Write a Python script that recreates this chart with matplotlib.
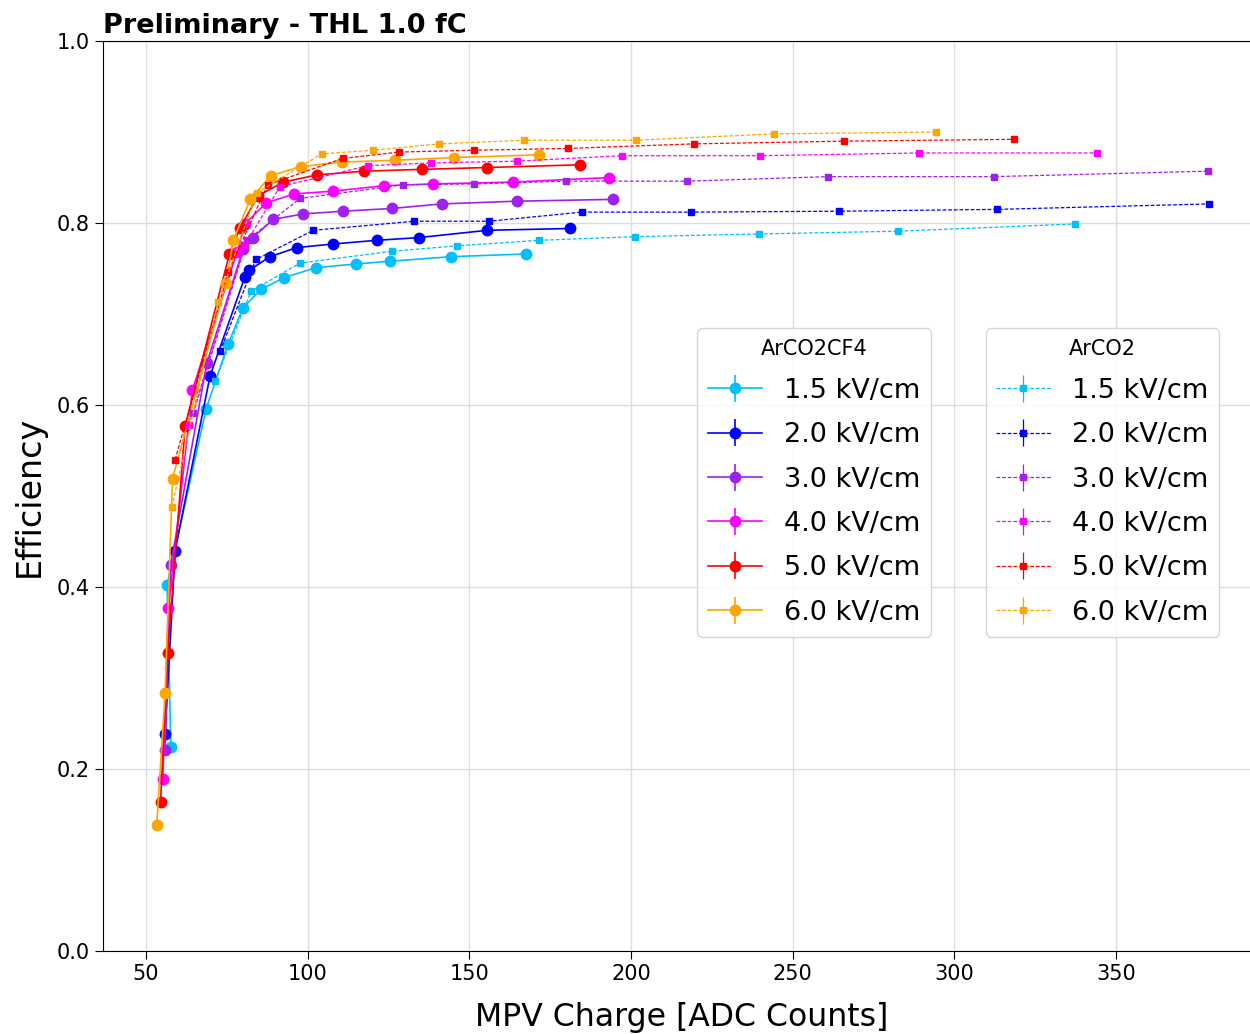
import matplotlib
matplotlib.use("Agg")
import matplotlib.pyplot as plt
import numpy as np

fields = ["1.5 kV/cm", "2.0 kV/cm", "3.0 kV/cm", "4.0 kV/cm", "5.0 kV/cm", "6.0 kV/cm"]
colors = ["#00BFFF", "#0000FF", "#A020F0", "#FF00FF", "#FF0000", "#FFA500"]

# ArCO2CF4 (solid, circles)
cf4_x = [
    [57.7, 56.5, 68.6, 75.4, 80.0, 85.6, 92.7, 102.6, 114.9, 125.4, 144.3, 167.5],
    [55.9, 59.0, 69.8, 80.6, 81.9, 88.3, 96.6, 107.9, 121.3, 134.4, 155.5, 181.1],
    [55.9, 57.6, 68.8, 80.1, 83.0, 89.4, 98.5, 110.8, 126.0, 141.4, 164.6, 194.5],
    [55.2, 56.9, 64.3, 78.1, 80.6, 87.1, 95.8, 107.7, 123.6, 138.8, 163.4, 193.3],
    [54.5, 56.7, 62.1, 75.8, 79.1, 84.7, 92.5, 103.0, 117.5, 135.5, 155.3, 184.2],
    [53.3, 55.9, 58.2, 74.7, 77.0, 82.2, 88.6, 97.8, 110.5, 127.0, 145.2, 171.6],
]
cf4_y = [
    [0.224, 0.402, 0.596, 0.667, 0.707, 0.727, 0.740, 0.751, 0.755, 0.758, 0.763, 0.766],
    [0.238, 0.440, 0.632, 0.741, 0.748, 0.763, 0.773, 0.777, 0.781, 0.784, 0.792, 0.794],
    [0.221, 0.424, 0.646, 0.772, 0.784, 0.804, 0.810, 0.813, 0.816, 0.821, 0.824, 0.826],
    [0.189, 0.377, 0.616, 0.768, 0.799, 0.822, 0.832, 0.835, 0.841, 0.843, 0.845, 0.850],
    [0.164, 0.327, 0.577, 0.766, 0.795, 0.830, 0.845, 0.853, 0.857, 0.859, 0.861, 0.864],
    [0.138, 0.283, 0.519, 0.734, 0.781, 0.826, 0.852, 0.862, 0.867, 0.869, 0.872, 0.875],
]

# ArCO2 (dashed, squares)
co2_x = [
    [71.3, 82.5, 97.6, 126.2, 146.3, 171.6, 201.2, 239.5, 282.5, 337.3],
    [72.9, 84.0, 101.7, 133.0, 156.1, 184.8, 218.5, 264.3, 313.1, 378.7],
    [64.6, 81.2, 97.6, 129.4, 151.4, 179.9, 217.3, 260.9, 312.2, 378.4],
    [63.3, 80.6, 91.4, 118.7, 138.0, 164.6, 197.2, 239.9, 289.0, 344.1],
    [59.0, 75.4, 87.6, 110.8, 128.3, 151.4, 180.5, 219.4, 265.8, 318.4],
    [58.0, 72.3, 84.2, 104.3, 120.1, 140.7, 166.9, 201.5, 244.2, 294.3],
]
co2_y = [
    [0.626, 0.725, 0.756, 0.769, 0.775, 0.781, 0.785, 0.788, 0.791, 0.799],
    [0.659, 0.760, 0.792, 0.802, 0.802, 0.812, 0.812, 0.813, 0.815, 0.821],
    [0.591, 0.781, 0.827, 0.842, 0.843, 0.846, 0.846, 0.851, 0.851, 0.857],
    [0.578, 0.776, 0.840, 0.863, 0.866, 0.868, 0.874, 0.874, 0.877, 0.877],
    [0.540, 0.746, 0.842, 0.871, 0.878, 0.880, 0.882, 0.887, 0.890, 0.892],
    [0.488, 0.713, 0.833, 0.876, 0.880, 0.887, 0.891, 0.891, 0.898, 0.900],
]

fig = plt.figure(figsize=(12.5, 10.34), dpi=100)
ax = fig.add_axes([0.0824, 0.0803, 0.9264, 0.880])

h1 = []
h2 = []
for i, lab in enumerate(fields):
    e = ax.errorbar(cf4_x[i], cf4_y[i], yerr=0.0, color=colors[i], marker='o',
                    markersize=7.5, linestyle='-', linewidth=1.2, label=lab)
    h1.append(e)
for i, lab in enumerate(fields):
    e = ax.errorbar(co2_x[i], co2_y[i], yerr=0.0, color=colors[i], marker='s',
                    markersize=4.5, linestyle=(0, (3, 1.5)), linewidth=0.9, label=lab)
    h2.append(e)

ax.set_xlim(36.7, 394.8)
ax.set_ylim(0.0, 1.0)
ax.set_xticks([50, 100, 150, 200, 250, 300, 350])
ax.set_yticks([0.0, 0.2, 0.4, 0.6, 0.8, 1.0])
ax.tick_params(labelsize=15, length=6)
ax.grid(True, color='#dddddd', linewidth=1.0)
ax.set_axisbelow(True)
ax.set_xlabel("MPV Charge [ADC Counts]", fontsize=22.7, labelpad=13)
ax.set_ylabel("Efficiency", fontsize=24, labelpad=8)
ax.set_title("Preliminary - THL 1.0 fC", loc='left', fontsize=19.5, fontweight='bold', pad=6)

leg1 = ax.legend(handles=h1, title="ArCO2CF4", loc='upper left',
                 bbox_to_anchor=(0.5015, 0.699), fontsize=19.5, title_fontsize=15,
                 labelspacing=0.68)
ax.add_artist(leg1)
leg2 = ax.legend(handles=h2, title="ArCO2", loc='upper left',
                 bbox_to_anchor=(0.7504, 0.699), fontsize=19.5, title_fontsize=15,
                 labelspacing=0.68)

fig.savefig("out.png", dpi=100)
